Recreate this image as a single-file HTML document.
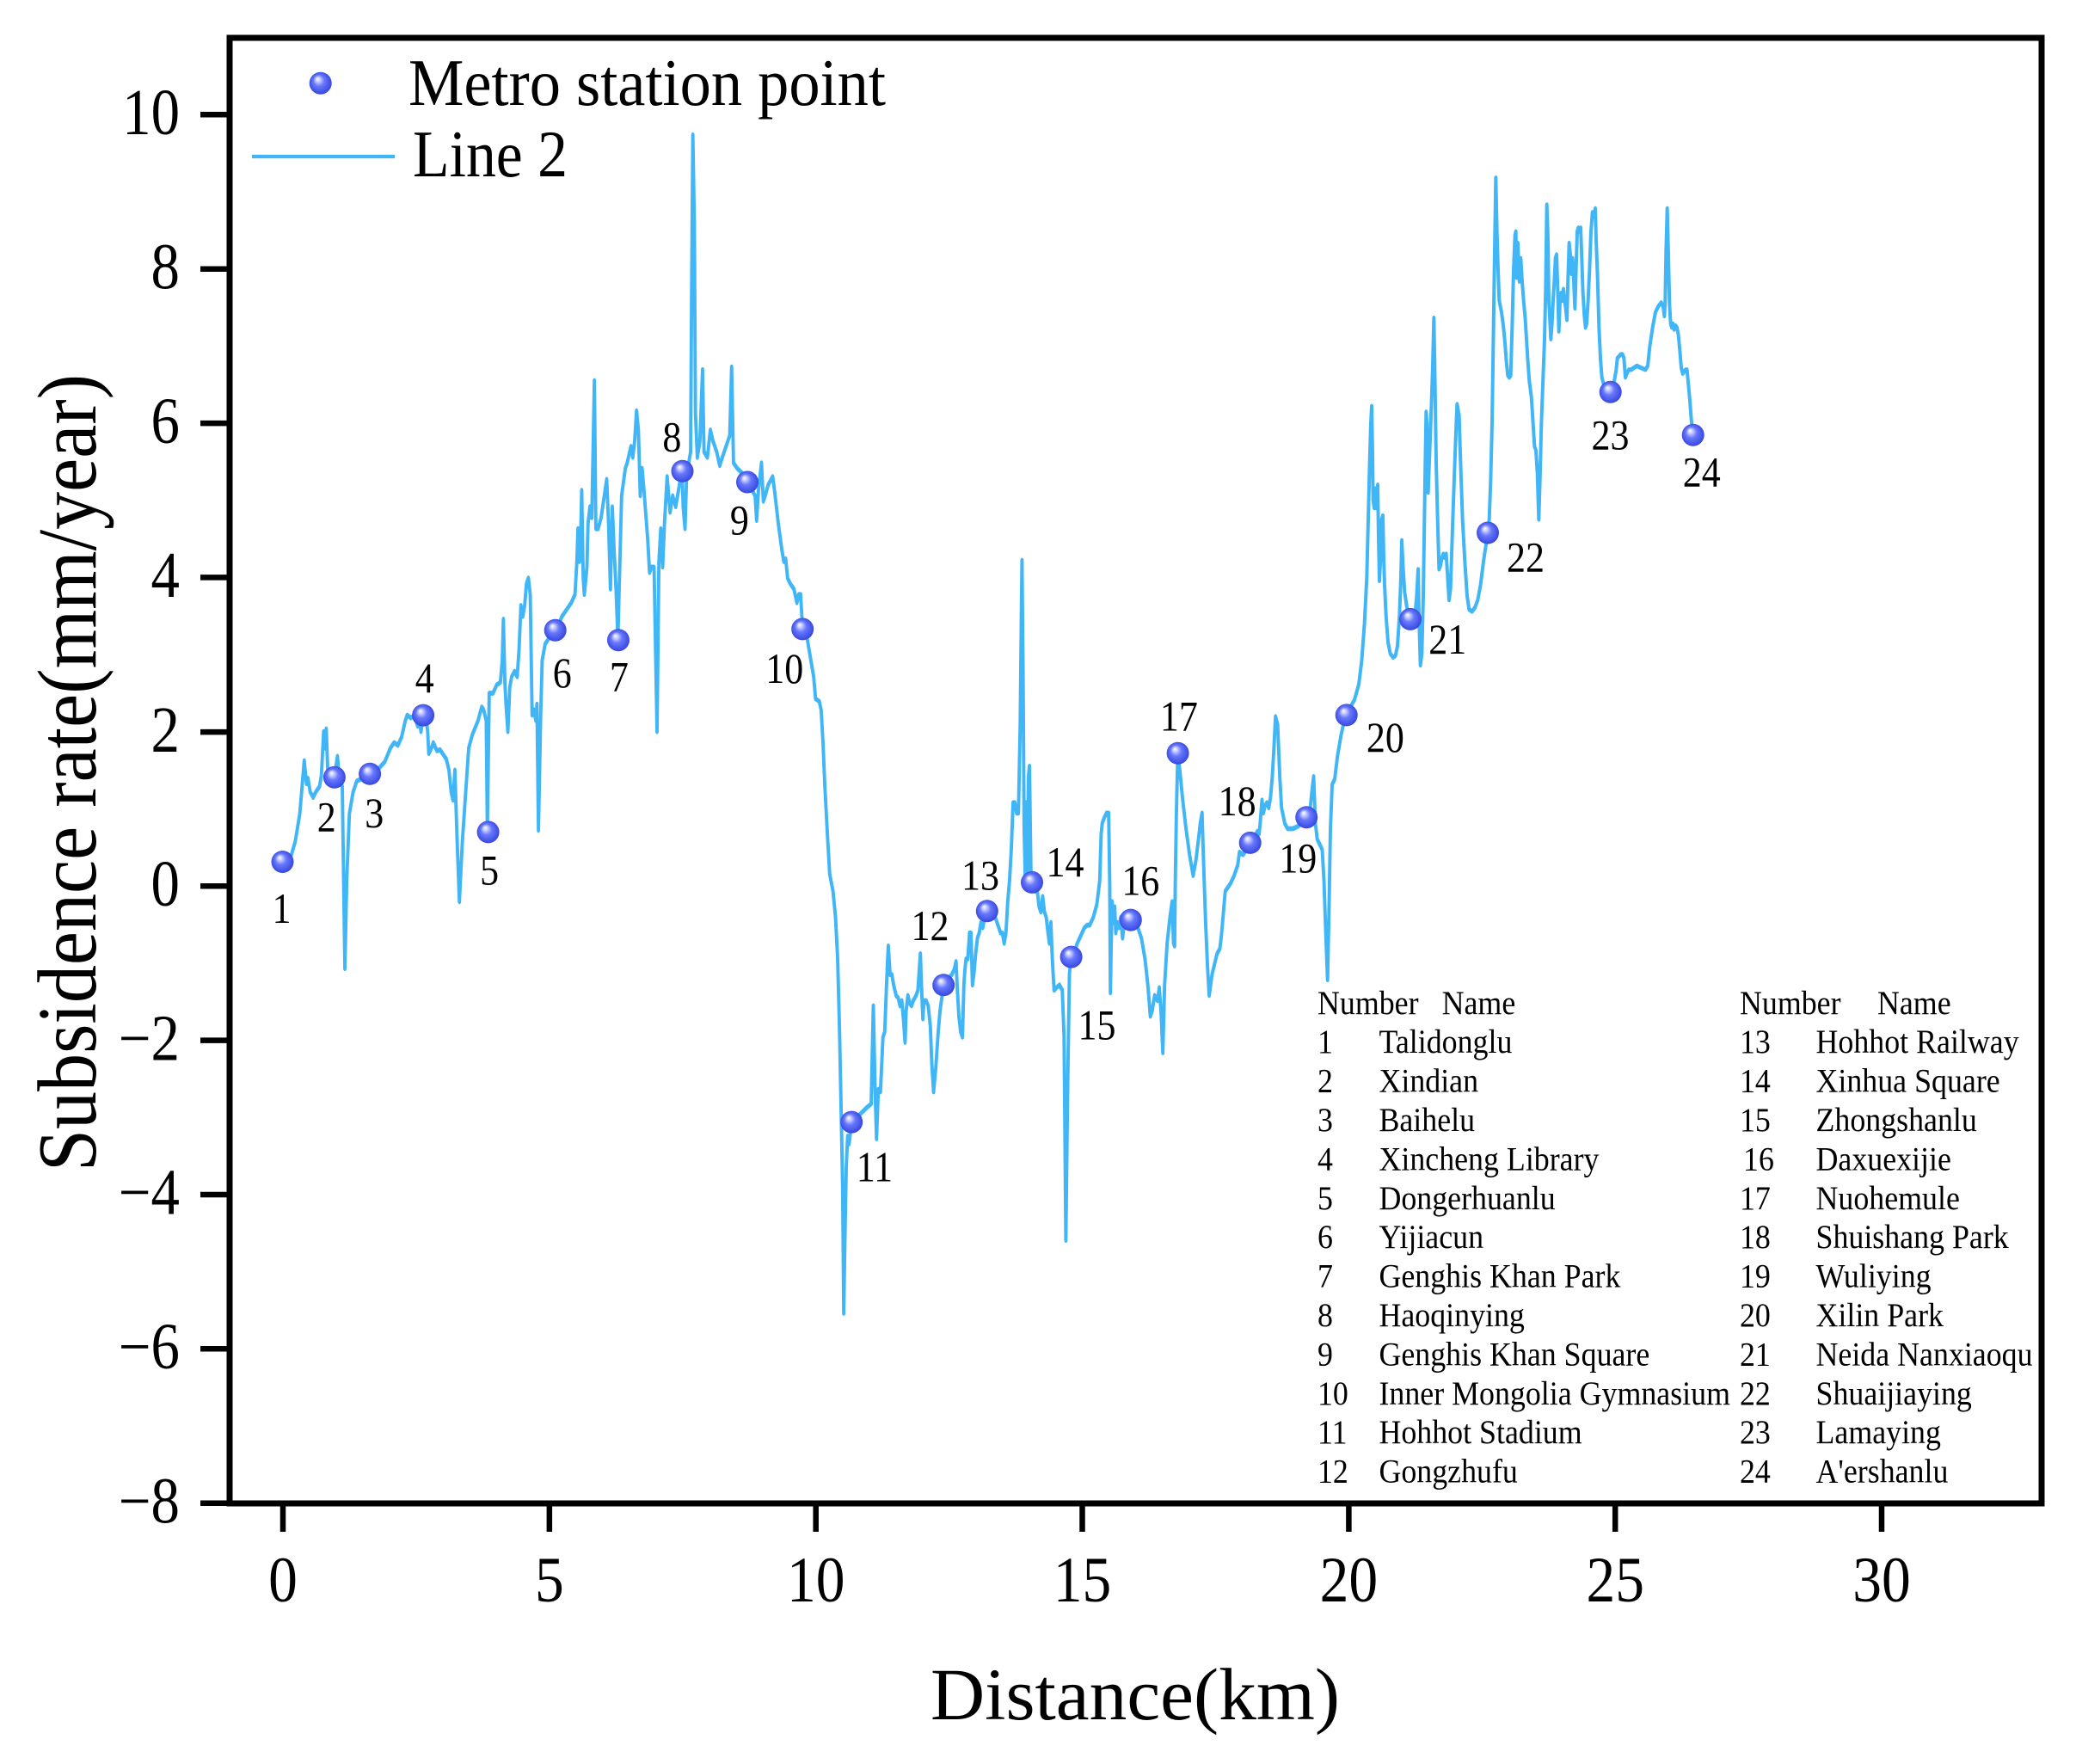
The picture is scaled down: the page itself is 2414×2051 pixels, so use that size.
<!DOCTYPE html>
<html><head><meta charset="utf-8"><style>
html,body{margin:0;padding:0;background:#fff;}
svg{display:block;}
text{font-family:"Liberation Serif","Times New Roman",serif;fill:#000;}
</style></head><body>
<svg width="2414" height="2051" viewBox="0 0 2414 2051" xmlns="http://www.w3.org/2000/svg">
<defs>
<radialGradient id="ball" cx="0.5" cy="0.5" r="0.55" fx="0.36" fy="0.3">
<stop offset="0" stop-color="#ffffff"/>
<stop offset="0.18" stop-color="#c9ceff"/>
<stop offset="0.45" stop-color="#6878fb"/>
<stop offset="1" stop-color="#3040dc"/>
</radialGradient>
</defs>
<rect width="2414" height="2051" fill="#fff"/>

<!-- data line -->
<g fill="none" stroke="#41b6f6" stroke-linejoin="round" stroke-linecap="round">
<polyline stroke-width="9" transform="translate(300,130) scale(0.43366,0.63776)" points="65,1370 85,1365 100,1330 112,1280 124,1183 130,1225 134,1215 140,1240 148,1250 155,1240 165,1230 170,1210 176,1130 180,1160 183,1125 187,1200 193,1205 205,1213 213,1175 218,1215 226,1230 233,1562 238,1400 245,1280 255,1240 265,1220 280,1215 300,1207 320,1200 340,1185 355,1160 365,1150 375,1155 385,1140 395,1110 400,1100 410,1105 420,1100 428,1120 433,1110 437,1130 443,1100 448,1090 455,1130 458,1170 465,1160 470,1150 480,1165 488,1163 495,1170 505,1180 512,1200 518,1240 523,1255 528,1200 533,1310 540,1440 548,1330 555,1260 565,1160 575,1135 590,1110 600,1085 605,1090 612,1110 615,1310 620,1060 630,1060 640,1045 650,1040 655,1000 658,925 662,1040 665,1080 670,1130 675,1050 680,1030 688,1020 695,1030 700,980 705,900 710,920 715,900 720,860 725,850 730,880 735,1100 740,1090 745,1110 748,1080 752,1310 758,1100 762,1000 770,970 785,955 800,945 815,920 825,910 840,895 850,880 855,820 858,760 862,820 865,780 868,690 872,850 875,880 878,860 882,830 885,750 890,720 895,740 902,490 906,760 912,760 920,740 935,670 940,750 945,870 950,720 955,800 960,870 965,960 970,830 975,700 985,650 990,640 1000,610 1005,630 1010,600 1015,545 1020,580 1025,700 1030,650 1035,690 1045,780 1050,840 1055,830 1062,830 1070,1130 1075,820 1080,760 1085,830 1090,750 1097,665 1105,730 1112,700 1120,720 1130,680 1137,650 1140,720 1145,760 1150,650 1155,640 1160,620 1163,300 1166,42 1170,200 1173,550 1178,630 1185,600 1192,470 1196,620 1205,630 1213,580 1220,600 1230,620 1238,645 1245,630 1255,610 1265,590 1270,465 1275,640 1285,650 1300,660 1312,675 1325,690 1333,700 1337,745 1342,690 1350,640 1355,710 1360,700 1368,680 1380,665 1385,690 1395,750 1405,800 1410,820 1415,815 1420,850 1427,860 1437,870 1445,895 1450,880 1455,880 1460,940 1470,950 1480,990 1490,1030 1495,1070 1505,1075 1510,1090 1515,1150 1520,1230 1527,1320 1533,1390"/>
<polyline stroke-width="9.5" transform="translate(950,600) scale(0.41459,0.60588)" points="35.7,687.4 45,720 52,770 58,850 63,980 68,1150 72,1290 75,1530 78,1400 82,1250 86,1190 90,1205 97,1163 110,1155 125,1145 140,1135 152,1128 158,940 163,1100 167,1195 172,1100 178,1105 185,1000 190,990 195,900 200,825 205,880 210,880 215,900 222,920 228,925 233,940 238,930 243,970 247,1010 250,950 255,920 260,935 265,940 270,930 278,920 283,910 290,840 293,900 297,965 300,930 306,930 312,940 318,980 322,1050 327,1105 333,1060 340,990 345,950 355,900 365,890 378,880 385,870 390,855 393,900 398,960 403,990 408,1000 412,900 415,870 418,850 423,850 428,800 432,800 436,900 440,880 445,840 450,810 455,800 460,780 465,790 470,770 477,760 485,765 495,770 500,770 510,790 515,800 520,800 525,820 530,800 535,740 540,700 545,640 550,550 555,550 560,570 565,570 570,400 573,200 575,85 578,300 581,600 584,690 587,550 590,700 593,500 596,480 600,680 603,690 612,720 618,720 623,750 628,760 633,730 638,760 643,770 648,800 652,820 656,780 660,850 665,910 672,905 680,900 688,910 693,1000 698,1390 703,1100 708,880 712,845 720,840 730,820 740,805 750,790 758,785 765,785 775,770 785,745 793,700 797,610 800,590 805,580 812,570 818,570 821,700 823,915 825,830 828,740 832,780 835,750 838,800 842,780 847,790 852,770 857,810 862,780 870,760 880,775 890,780 900,790 910,810 920,850 928,900 935,960 940,950 947,920 955,930 960,905 965,950 970,1030 975,900 982,820 990,770 996,740 1000,820 1003,825 1005,700 1008,570 1012,455 1018,490 1025,540 1035,600 1045,650 1055,690 1063,660 1070,620 1075,590 1080,570 1085,680 1090,780 1095,860 1100,920 1108,880 1115,860 1122,840 1130,830 1135,800 1140,760 1145,720 1150,715 1160,705 1170,690 1180,670 1185,645 1195,650 1205,640 1215,628 1225,620 1235,605 1240,610 1243,590 1248,545 1252,570 1257,555 1262,550 1267,560 1272,540 1277,500 1282,440 1286,385 1292,400 1298,500 1303,560 1312,590 1320,600 1335,600 1350,595 1365,585 1373,578 1382,570 1388,530 1393,500 1398,590 1403,620 1410,630 1417,640 1422,700 1427,800 1432,890 1436,760 1440,600 1445,515 1452,505 1460,460 1470,420 1478,395 1485,382"/>
<polyline stroke-width="12" transform="translate(1530,180) scale(0.33333,0.44620)" points="107.1,1459.9 120,1440 135,1420 150,1380 160,1320 170,1220 178,1100 183,950 188,800 192,700 195,655 198,780 200,900 204,920 207,870 210,920 213,880 216,860 219,1000 222,1110 226,1050 230,950 234,940 237,1050 240,1120 245,1200 252,1270 260,1300 270,1310 278,1305 285,1280 292,1200 297,1100 300,1005 305,1080 310,1140 318,1180 325,1200 330,1210 338,1220 345,1210 352,1150 357,1080 360,1200 365,1330 370,1300 375,1150 378,1000 381,850 385,670 388,700 392,880 396,800 400,720 403,660 408,550 412,425 416,600 420,800 425,950 430,1080 435,1070 440,1050 445,1040 450,1050 455,1040 460,1100 465,1160 470,1130 478,950 485,800 490,700 493,650 500,680 505,800 512,950 520,1060 528,1150 535,1185 545,1190 555,1180 565,1160 575,1120 585,1060 595,1010 600,985 605,950 610,850 615,700 620,450 624,250 628,60 632,200 636,300 640,380 648,410 655,450 660,490 665,540 670,575 675,580 680,575 685,450 690,300 695,210 698,200 700,320 705,230 710,330 715,270 720,330 725,380 730,420 735,480 740,540 745,590 752,630 758,700 763,760 768,770 773,830 778,950 782,850 787,700 793,580 798,480 802,350 806,130 810,220 813,380 816,420 820,480 824,440 828,380 832,330 836,270 840,260 844,350 848,460 852,380 856,360 860,380 864,350 868,380 872,400 876,430 880,320 884,230 888,260 892,310 896,270 900,330 904,400 908,300 912,200 916,190 920,200 924,190 928,270 932,360 937,420 941,450 945,440 950,380 955,300 960,200 965,150 970,160 975,140 978,220 983,320 988,450 993,530 998,580 1005,600 1015,605 1028,618 1040,595 1048,560 1052,530 1058,525 1064,520 1070,520 1075,530 1080,580 1085,570 1092,560 1100,560 1110,555 1120,550 1135,555 1150,560 1158,550 1165,500 1175,450 1185,410 1195,395 1205,385 1212,395 1216,420 1219,380 1222,250 1226,140 1230,260 1234,390 1238,440 1242,450 1246,440 1250,455 1255,445 1260,450 1265,470 1270,510 1275,555 1280,570 1285,565 1290,560 1295,560 1300,600 1305,640 1310,690 1316,730"/>
</g>

<!-- station markers -->
<g fill="url(#ball)">
<circle cx="328.5" cy="1002" r="13"/>
<circle cx="388.9" cy="903.7" r="13"/>
<circle cx="430.1" cy="899.8" r="13"/>
<circle cx="492.1" cy="831.6" r="13"/>
<circle cx="567.6" cy="967.4" r="13"/>
<circle cx="645.7" cy="732.7" r="13"/>
<circle cx="719" cy="744.2" r="13"/>
<circle cx="793.5" cy="547.8" r="13"/>
<circle cx="869" cy="560.5" r="13"/>
<circle cx="933.2" cy="731.4" r="13"/>
<circle cx="990.2" cy="1304.6" r="13"/>
<circle cx="1097.2" cy="1145.3" r="13"/>
<circle cx="1147.8" cy="1059.3" r="13"/>
<circle cx="1200" cy="1025.9" r="13"/>
<circle cx="1245.6" cy="1112.6" r="13"/>
<circle cx="1314.8" cy="1069.6" r="13"/>
<circle cx="1369.6" cy="875.7" r="13"/>
<circle cx="1453.7" cy="979.9" r="13"/>
<circle cx="1519.2" cy="950.2" r="13"/>
<circle cx="1565.7" cy="831.4" r="13"/>
<circle cx="1640" cy="719.9" r="13"/>
<circle cx="1730" cy="619.5" r="13"/>
<circle cx="1872.7" cy="455.8" r="13"/>
<circle cx="1968.7" cy="505.7" r="13"/>
<circle cx="372.7" cy="96.7" r="13"/>
</g>

<!-- station labels -->
<g font-size="50" text-anchor="middle">
<text transform="translate(327.5,1073) scale(0.88,1)">1</text>
<text transform="translate(379.8,966.7) scale(0.88,1)">2</text>
<text transform="translate(435.2,962.1) scale(0.88,1)">3</text>
<text transform="translate(493.7,804.9) scale(0.88,1)">4</text>
<text transform="translate(569.1,1028.3) scale(0.88,1)">5</text>
<text transform="translate(653.7,798.8) scale(0.88,1)">6</text>
<text transform="translate(719.9,803.4) scale(0.88,1)">7</text>
<text transform="translate(781.4,524.6) scale(0.88,1)">8</text>
<text transform="translate(859.9,621.6) scale(0.88,1)">9</text>
<text transform="translate(912.2,794.2) scale(0.88,1)">10</text>
<text transform="translate(1016.9,1373.3) scale(0.88,1)">11</text>
<text transform="translate(1081.5,1093) scale(0.88,1)">12</text>
<text transform="translate(1140,1034.5) scale(0.88,1)">13</text>
<text transform="translate(1238.5,1019.1) scale(0.88,1)">14</text>
<text transform="translate(1275.5,1208.5) scale(0.88,1)">15</text>
<text transform="translate(1326.3,1040.6) scale(0.88,1)">16</text>
<text transform="translate(1370.9,849.6) scale(0.88,1)">17</text>
<text transform="translate(1438.6,948.2) scale(0.88,1)">18</text>
<text transform="translate(1509.3,1014.4) scale(0.88,1)">19</text>
<text transform="translate(1610.9,874.2) scale(0.88,1)">20</text>
<text transform="translate(1683.2,760.2) scale(0.88,1)">21</text>
<text transform="translate(1774,664.3) scale(0.88,1)">22</text>
<text transform="translate(1872.5,522.6) scale(0.88,1)">23</text>
<text transform="translate(1978.7,565.7) scale(0.88,1)">24</text>
</g>

<!-- frame -->
<rect x="267" y="44" width="2107" height="1704" fill="none" stroke="#000" stroke-width="7"/>
<!-- ticks -->
<g stroke="#000" stroke-width="6.5">
<line x1="233" y1="133.3" x2="267" y2="133.3"/>
<line x1="233" y1="312.7" x2="267" y2="312.7"/>
<line x1="233" y1="492.1" x2="267" y2="492.1"/>
<line x1="233" y1="671.4" x2="267" y2="671.4"/>
<line x1="233" y1="851.1" x2="267" y2="851.1"/>
<line x1="233" y1="1030.2" x2="267" y2="1030.2"/>
<line x1="233" y1="1209.6" x2="267" y2="1209.6"/>
<line x1="233" y1="1389" x2="267" y2="1389"/>
<line x1="233" y1="1568.3" x2="267" y2="1568.3"/>
<line x1="233" y1="1747.7" x2="267" y2="1747.7"/>
<line x1="329" y1="1748" x2="329" y2="1781"/>
<line x1="638.85" y1="1748" x2="638.85" y2="1781"/>
<line x1="948.7" y1="1748" x2="948.7" y2="1781"/>
<line x1="1258.5" y1="1748" x2="1258.5" y2="1781"/>
<line x1="1568.4" y1="1748" x2="1568.4" y2="1781"/>
<line x1="1878.2" y1="1748" x2="1878.2" y2="1781"/>
<line x1="2188" y1="1748" x2="2188" y2="1781"/>
</g>

<!-- y tick labels -->
<g font-size="76" text-anchor="end">
<text transform="translate(209,156) scale(0.88,1)">10</text>
<text transform="translate(209,335.4) scale(0.88,1)">8</text>
<text transform="translate(209,514.8) scale(0.88,1)">6</text>
<text transform="translate(209,694.1) scale(0.88,1)">4</text>
<text transform="translate(209,873.8) scale(0.88,1)">2</text>
<text transform="translate(209,1052.9) scale(0.88,1)">0</text>
<text transform="translate(209,1232.3) scale(0.88,1)">−2</text>
<text transform="translate(209,1411.7) scale(0.88,1)">−4</text>
<text transform="translate(209,1591) scale(0.88,1)">−6</text>
<text transform="translate(209,1770.4) scale(0.88,1)">−8</text>
</g>
<!-- x tick labels -->
<g font-size="75" text-anchor="middle">
<text transform="translate(329,1862) scale(0.9,1)">0</text>
<text transform="translate(638.85,1862) scale(0.9,1)">5</text>
<text transform="translate(948.7,1862) scale(0.9,1)">10</text>
<text transform="translate(1258.5,1862) scale(0.9,1)">15</text>
<text transform="translate(1568.4,1862) scale(0.9,1)">20</text>
<text transform="translate(1878.2,1862) scale(0.9,1)">25</text>
<text transform="translate(2188,1862) scale(0.9,1)">30</text>
</g>

<!-- axis titles -->
<text transform="translate(111,898.5) rotate(-90)" font-size="98" text-anchor="middle" textLength="927" lengthAdjust="spacingAndGlyphs">Subsidence rate(mm/year)</text>
<text x="1082" y="1999" font-size="86" textLength="476" lengthAdjust="spacingAndGlyphs">Distance(km)</text>

<!-- legend -->
<line x1="293" y1="182" x2="459" y2="182" stroke="#41b6f6" stroke-width="4.2"/>
<text x="475" y="122" font-size="77" textLength="555" lengthAdjust="spacingAndGlyphs">Metro station point</text>
<text x="480" y="205" font-size="77" textLength="180" lengthAdjust="spacingAndGlyphs">Line 2</text>

<!-- station table -->
<g font-size="39" transform="scale(0.92,1)">
<text x="1665.2" y="1178.8">Number</text><text x="1822.4" y="1178.8">Name</text>
<text x="2198.9" y="1178.8">Number</text><text x="2372.8" y="1178.8">Name</text>

<text x="1665.2" y="1224.2">1</text><text x="1742.9" y="1224.2">Talidonglu</text>
<text x="1665.2" y="1269.6">2</text><text x="1742.9" y="1269.6">Xindian</text>
<text x="1665.2" y="1315">3</text><text x="1742.9" y="1315">Baihelu</text>
<text x="1665.2" y="1360.4">4</text><text x="1742.9" y="1360.4">Xincheng Library</text>
<text x="1665.2" y="1405.8">5</text><text x="1742.9" y="1405.8">Dongerhuanlu</text>
<text x="1665.2" y="1451.2">6</text><text x="1742.9" y="1451.2">Yijiacun</text>
<text x="1665.2" y="1496.6">7</text><text x="1742.9" y="1496.6">Genghis Khan Park</text>
<text x="1665.2" y="1542">8</text><text x="1742.9" y="1542">Haoqinying</text>
<text x="1665.2" y="1587.4">9</text><text x="1742.9" y="1587.4">Genghis Khan Square</text>
<text x="1665.2" y="1632.8">10</text><text x="1742.9" y="1632.8">Inner Mongolia Gymnasium</text>
<text x="1665.2" y="1678.2">11</text><text x="1742.9" y="1678.2">Hohhot Stadium</text>
<text x="1665.2" y="1723.6">12</text><text x="1742.9" y="1723.6">Gongzhufu</text>

<text x="2198.9" y="1224.2">13</text><text x="2295.1" y="1224.2">Hohhot Railway</text>
<text x="2198.9" y="1269.6">14</text><text x="2295.1" y="1269.6">Xinhua Square</text>
<text x="2198.9" y="1315">15</text><text x="2295.1" y="1315">Zhongshanlu</text>
<text x="2203.3" y="1360.4">16</text><text x="2295.1" y="1360.4">Daxuexijie</text>
<text x="2198.9" y="1405.8">17</text><text x="2295.1" y="1405.8">Nuohemule</text>
<text x="2198.9" y="1451.2">18</text><text x="2295.1" y="1451.2">Shuishang Park</text>
<text x="2198.9" y="1496.6">19</text><text x="2295.1" y="1496.6">Wuliying</text>
<text x="2198.9" y="1542">20</text><text x="2295.1" y="1542">Xilin Park</text>
<text x="2198.9" y="1587.4">21</text><text x="2295.1" y="1587.4">Neida Nanxiaoqu</text>
<text x="2198.9" y="1632.8">22</text><text x="2295.1" y="1632.8">Shuaijiaying</text>
<text x="2198.9" y="1678.2">23</text><text x="2295.1" y="1678.2">Lamaying</text>
<text x="2198.9" y="1723.6">24</text><text x="2295.1" y="1723.6">A'ershanlu</text>
</g>
</svg>
</body></html>
